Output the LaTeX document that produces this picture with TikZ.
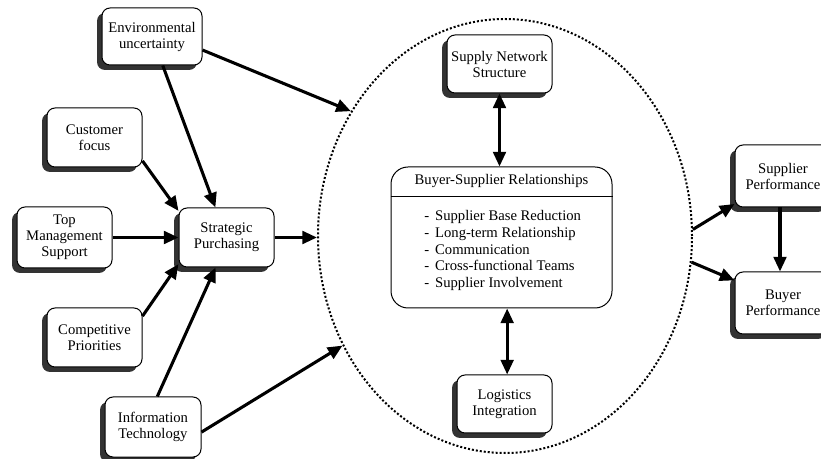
\documentclass[tikz,border=0pt]{standalone}
\usepackage{fontspec}
\setmainfont{Liberation Serif}
\usetikzlibrary{arrows.meta, shapes.geometric, shadows}
\tikzset{
  >={Triangle[length=11pt, width=9.5pt]},
  factor/.style={draw, line width=0.75pt, rounded corners=6pt, fill=white, align=center,
    inner sep=2pt, font=\fontsize{11}{12}\selectfont,
    minimum width=71.25pt, minimum height=44.25pt,
    drop shadow={shadow xshift=-3.75pt, shadow yshift=-3.75pt, fill=black!80, opacity=1}},
  cause/.style={->, line width=2.3pt},
  mutual/.style={<->, line width=2.3pt},
  % dotted ellipse round the relationship block
  ringline/.style={draw, ellipse, line width=1.5pt, dash pattern=on 1.5pt off 1.5pt,
    minimum width=280.5pt, minimum height=325.5pt, inner sep=0pt},
  listtext/.style={font=\fontsize{11}{12.6}\selectfont, align=left, inner sep=0pt},
}
\begin{document}
\begin{tikzpicture}[x=0.75pt, y=-0.75pt]
  \useasboundingbox (0,0) rectangle (821,459);
  % ---------------- supply management block
  \node[ringline] (ring) at (505,236) {};
  \node[factor, minimum width=75pt, minimum height=42.75pt] (eu) at (152,36.5) {Environmental\\uncertainty};
  \node[factor] (cf) at (94.5,137.5) {Customer\\focus};
  \node[factor, minimum height=45.75pt] (tms) at (64.5,237.5) {Top\\Management\\Support};
  \node[factor] (sp) at (226.5,237.5) {Strategic\\Purchasing};
  \node[factor] (cp) at (94.5,337.5) {Competitive\\Priorities};
  \node[factor, minimum width=72pt, minimum height=45pt] (it) at (153,427) {Information\\Technology};
  \node[factor, minimum width=78.75pt, minimum height=43.5pt] (sns) at (499.5,64) {Supply Network\\Structure};
  \node[factor, minimum height=43.5pt] (li) at (504.5,404) {Logistics\\Integration};
  \node[factor, minimum width=72pt, minimum height=46.5pt] (supp) at (783,176) {Supplier\\Performance};
  \node[factor, minimum width=72pt, minimum height=46.5pt] (buyp) at (783,303) {Buyer\\Performance};
  % relationship box with title bar
  \node[draw, line width=0.75pt, rounded corners=12.75pt, fill=white,
    minimum width=165.75pt, minimum height=105.75pt] (bsr) at (501.5,237.5) {};
  \node[font=\fontsize{11}{12}\selectfont] (bsrtitle) at (501.5,181) {Buyer-Supplier Relationships};
  \draw[line width=0.75pt] ([yshift=-22.5pt]bsr.north west) -- ([yshift=-22.5pt]bsr.north east);
  \node[listtext, anchor=west] (bsrlist) at (424,250.5) {%
    -\hspace{4.5pt}Supplier Base Reduction\\
    -\hspace{4.5pt}Long-term Relationship\\
    -\hspace{4.5pt}Communication\\
    -\hspace{4.5pt}Cross-functional Teams\\
    -\hspace{4.5pt}Supplier Involvement};
  % ---------------- arrows
  \draw[cause] (eu.-15) -- (ring.141);
  \draw[cause] (eu) -- (sp);
  \draw[cause] (cf.-26) -- (sp.151.6);
  \draw[cause] (tms) -- (sp);
  \draw[cause] (cp.24.6) -- (sp.-151);
  \draw[cause] (it.82) -- (sp.-110);
  \draw[cause] (it.-6) -- (ring.214);
  \draw[cause] (sp.east) -- (sp.east -| ring.west);
  \draw[mutual] (sns.south) -- (sns.south |- bsr.north);
  \draw[mutual] ([xshift=2pt]li.north |- bsr.south) -- ([xshift=2pt]li.north);
  \draw[cause] (ring.2.8) -- (supp.210);
  \draw[cause] (ring.-8.6) -- (buyp.155);
  \draw[cause] ([xshift=-2.25pt]supp.south) -- ([xshift=-2.25pt]buyp.north);
\end{tikzpicture}
\end{document}
